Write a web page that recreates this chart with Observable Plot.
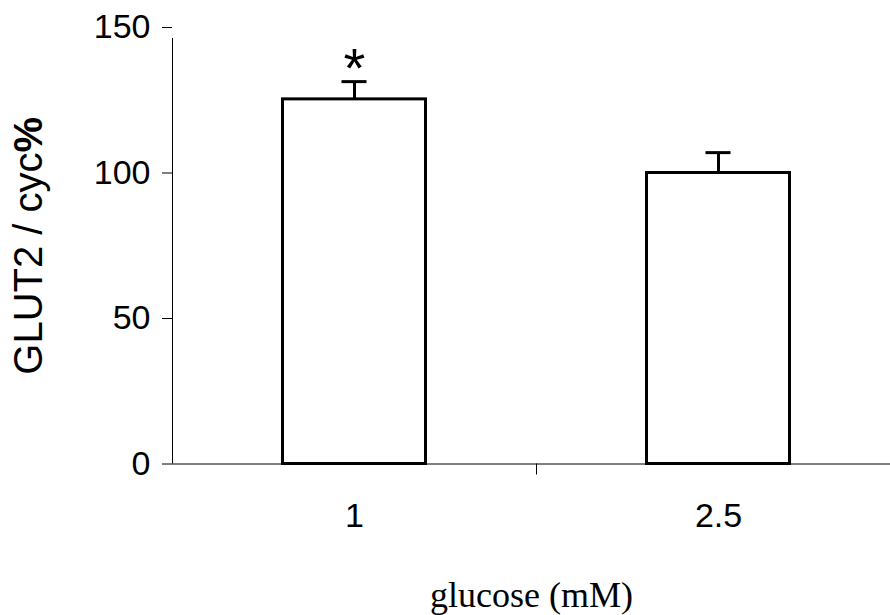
<!DOCTYPE html>
<html>
<head>
<meta charset="utf-8">
<script src="https://cdn.jsdelivr.net/npm/d3@7"></script>
<script src="https://cdn.jsdelivr.net/npm/@observablehq/plot@0.6"></script>
<style>
  html, body { margin: 0; padding: 0; background: #fff; overflow: hidden; }
</style>
</head>
<body>
<div id="chart"></div>
<script>
const categories = ["1", "2.5"];
const values = [125.3, 100.0];
const errors = [6.1, 7.0];
const significant = [true, false];
const yTicks = [0, 50, 100, 150];
const xLabel = "glucose (mM)";
const yLabel = "GLUT2 / cyc%";

const data = categories.map((c, i) => ({glucose: c, value: values[i], err: errors[i], sig: significant[i]}));

const W = 890, H = 615;
const xRange = [172, 900];
const step = (xRange[1] - xRange[0]) / categories.length;
const half = step / 2;
const barWidth = 143;
const capWidth = 25;
const sans = "Liberation Sans, Arial, sans-serif";

const chart = Plot.plot({
  width: W,
  height: H,
  marginLeft: 172,
  marginRight: 0,
  marginTop: 27,
  marginBottom: 151.5,
  style: {fontFamily: sans, background: "white", overflow: "visible"},
  x: {type: "band", domain: categories, range: xRange, padding: 0, label: null},
  y: {domain: [0, 150], label: null},
  marks: [
    Plot.ruleY([0], {stroke: "black", strokeWidth: 1}),
    Plot.ruleX([categories[0]], {dx: -half, y1: 0, y2: 150, insetBottom: -11, stroke: "black", strokeWidth: 1}),
    Plot.ruleX(categories.slice(1), {dx: -half, y1: 0, y2: 0, insetBottom: -11, stroke: "black", strokeWidth: 1}),
    Plot.axisY({ticks: yTicks, tickSize: 10, tickPadding: 12, fontSize: 34, fontFamily: sans, label: null, stroke: "black", color: "black"}),
    Plot.axisX({tickSize: 0, tickPadding: 39, fontSize: 34, fontFamily: sans, label: null, color: "black"}),
    Plot.barY(data, {x: "glucose", y: "value", fill: "white", stroke: "black", strokeWidth: 3,
      insetLeft: (step - barWidth) / 2, insetRight: (step - barWidth) / 2}),
    Plot.ruleX(data, {x: "glucose", y1: "value", y2: d => d.value + d.err, stroke: "black", strokeWidth: 3}),
    Plot.tickY(data, {x: "glucose", y: d => d.value + d.err, stroke: "black", strokeWidth: 3,
      insetLeft: (step - capWidth) / 2, insetRight: (step - capWidth) / 2}),
    Plot.text(data.filter(d => d.sig), {x: "glucose", y: d => d.value + d.err, text: () => "*",
      lineAnchor: "bottom", dy: 5, fontSize: 56, fontFamily: sans, fill: "black"}),
    Plot.text([yLabel], {frameAnchor: "left", rotate: -90, dx: -143, fontSize: 40, fontFamily: sans,
      textAnchor: "middle", lineAnchor: "middle", fill: "black"}),
    Plot.text([xLabel], {frameAnchor: "bottom", dy: 143, fontSize: 36, fontFamily: "Liberation Serif, Times New Roman, serif",
      textAnchor: "middle", lineAnchor: "bottom", fill: "black"})
  ]
});

d3.select(chart).selectAll("text").each(function() {
  if (this.textContent === yLabel) {
    const t = d3.select(this);
    t.text(null);
    t.append("tspan").text(yLabel.slice(0, -1));
    t.append("tspan").attr("font-weight", "bold").text("%");
  }
});

document.getElementById("chart").appendChild(chart);
</script>
</body>
</html>
